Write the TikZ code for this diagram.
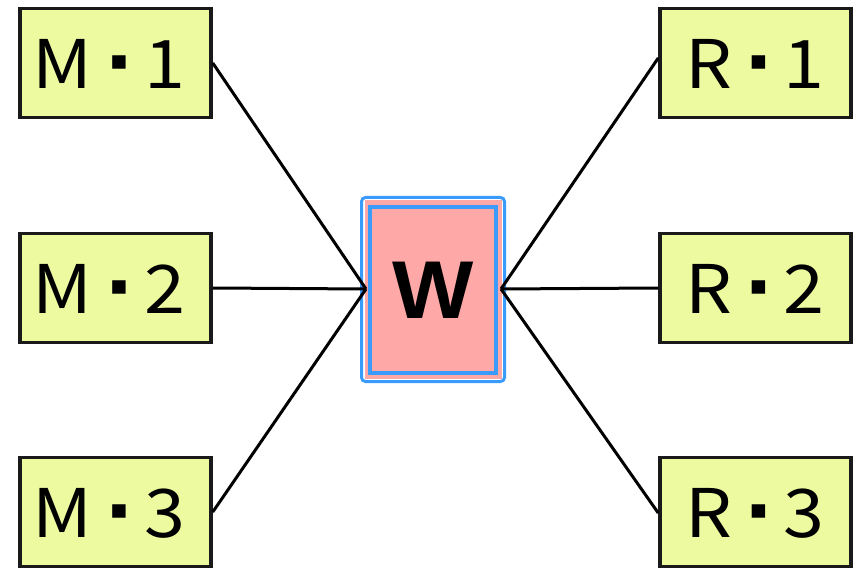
\documentclass[tikz,border=0pt]{standalone}
\usepackage{fontspec}
\setmainfont{Noto Sans CJK JP}[FakeStretch=1.1]
\newfontfamily\symfont{DejaVu Sans}
\newfontfamily\wfont{Liberation Sans}[FakeStretch=1.05]
\definecolor{boxfill}{HTML}{EEFAA0}
\definecolor{wfill}{HTML}{FFA8A8}
\definecolor{wblue}{HTML}{3A9BFA}
% label: letter, square middle dot, digit
\newcommand{\lab}[2]{#1\hspace{17pt}\raisebox{19pt}{\symfont\fontsize{27}{27}\selectfont ▪}\hspace{16pt}#2}
\tikzset{
  unit/.style={draw=black!90, line width=3.5pt, fill=boxfill,
    minimum width=191pt, minimum height=109pt, inner sep=0pt},
  unittext/.style={inner sep=0pt, font=\fontsize{67}{67}\selectfont},
  link/.style={line width=3pt, black},
}
\begin{document}
\begin{tikzpicture}[x=1pt,y=-1pt]
\useasboundingbox (0,0) rectangle (860,572);
% left column
\node[unit] (m1) at (115.5,63) {};
\node[unit] (m2) at (115.5,288) {};
\node[unit] (m3) at (115.5,512) {};
\node[unittext] (m1t) at (109,64) {\lab{M}{1}};
\node[unittext] (m2t) at (109,289) {\lab{M}{2}};
\node[unittext] (m3t) at (109,513) {\lab{M}{3}};
% right column
\node[unit] (r1) at (755.5,63) {};
\node[unit] (r2) at (755.5,288) {};
\node[unit] (r3) at (755.5,512) {};
\node[unittext] (r1t) at (755,64) {\lab{R}{1}};
\node[unittext] (r2t) at (755,289) {\lab{R}{2}};
\node[unittext] (r3t) at (755,513) {\lab{R}{3}};
% central W block: rounded blue outline, white gap, pink body with inner blue frame
\node[draw=wblue, line width=3pt, rounded corners=4pt, fill=white,
      minimum width=143pt, minimum height=184pt, inner sep=0pt] (wo) at (433,289.5) {};
\node[fill=wfill, minimum width=137pt, minimum height=178pt, inner sep=0pt] (wp) at (433,289.5) {};
\node[draw=wblue, line width=3.5pt, fill=wfill,
      minimum width=126pt, minimum height=166pt, inner sep=0pt,
      font=\wfont\bfseries\fontsize{82}{82}\selectfont] (w) at (433,290) {W};
\coordinate (wl) at (366,289);
\coordinate (wr) at (501,289);
% connectors
\draw[link] (m1.east) -- (wl);
\draw[link] (m2.east) -- (wl);
\draw[link] (m3.east) -- (wl);
\draw[link] ([yshift=5pt]r1.west) -- (wr);
\draw[link] (r2.west) -- (wr);
\draw[link] ([yshift=-1pt]r3.west) -- (wr);
\end{tikzpicture}
\end{document}
